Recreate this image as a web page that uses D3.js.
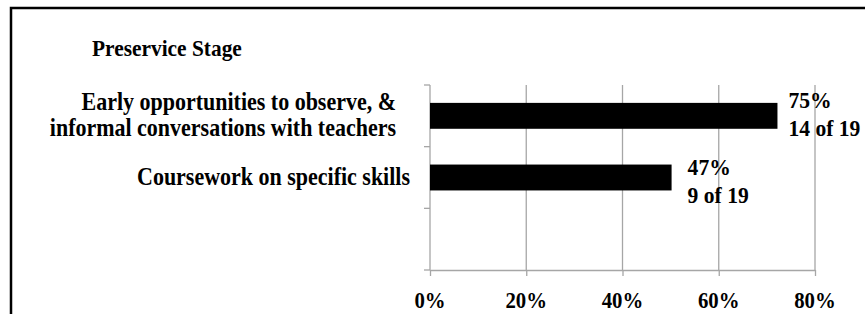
<!DOCTYPE html>
<html>
<head>
<meta charset="utf-8">
<script src="https://cdn.jsdelivr.net/npm/d3@7"></script>
<style>
  html, body { margin: 0; padding: 0; background: #fff; }
  svg { display: block; }
</style>
</head>
<body>
<svg id="chart" width="865" height="314"></svg>
<script>
// ---- data ----
const title = "Preservice Stage";
const categories = [
  ["Early opportunities to observe, &", "informal conversations with teachers"],
  ["Coursework on specific skills"],
  [""]
];
const values = [0.722, 0.502];
const labelPercent = ["75%", "47%"];
const labelCount = ["14 of 19", "9 of 19"];
const tickValues = [0, 0.2, 0.4, 0.6, 0.8];

// ---- layout ----
const W = 865, H = 314;
const plot = { left: 430, right: 815, top: 85, bottom: 270 };
const FONT = "'Liberation Serif', 'Times New Roman', serif";
const VS = 1.1; // vertical stretch of the text in the reference
const grid = "#a6a6a6";

const svg = d3.select("#chart");

function addText(x, y, str, size, anchor) {
  const g = svg.append("g").attr("transform", `translate(${x},${y}) scale(1,${VS})`);
  g.append("text")
    .attr("x", 0).attr("y", 0)
    .attr("text-anchor", anchor || "start")
    .attr("font-family", FONT)
    .style("font-family", FONT)
    .style("font-weight", "bold")
    .style("font-size", size + "px")
    .attr("fill", "#000")
    .text(str);
  return g;
}

// frame
svg.append("rect")
  .attr("x", 11).attr("y", 8)
  .attr("width", W + 20).attr("height", H + 20)
  .attr("fill", "none").attr("stroke", "#000").attr("stroke-width", 2.5);

const x = d3.scaleLinear().domain([0, 0.8]).range([plot.left, plot.right]);
const keys = categories.map((c, i) => i);
const y = d3.scaleBand().domain(keys).range([plot.top, plot.bottom])
  .paddingInner(0.58).paddingOuter(0.29);

// gridlines
svg.append("g").selectAll("line")
  .data(tickValues.filter(d => d > 0))
  .join("line")
  .attr("x1", d => x(d)).attr("x2", d => x(d))
  .attr("y1", plot.top).attr("y2", plot.bottom)
  .attr("stroke", grid).attr("stroke-width", 1.3);

// x axis (line + ticks via d3 axis, labels drawn with stretched text)
const xAxis = svg.append("g")
  .attr("transform", `translate(0,${plot.bottom})`)
  .call(d3.axisBottom(x).tickValues(tickValues).tickFormat("").tickSize(6).tickSizeOuter(0));
xAxis.select(".domain").attr("stroke", grid).attr("stroke-width", 1.3);
xAxis.selectAll(".tick line").attr("stroke", grid).attr("stroke-width", 1.3);
const fmt = d3.format(".0%");
tickValues.forEach(v => addText(x(v), plot.bottom + 38, fmt(v), 20.8, "middle"));

// y axis line + ticks at band boundaries
const step = y.step();
const bounds = keys.map(k => y(k) - (step - y.bandwidth()) / 2).concat([plot.bottom]);
svg.append("line")
  .attr("x1", x(0)).attr("x2", x(0))
  .attr("y1", plot.top).attr("y2", plot.bottom)
  .attr("stroke", grid).attr("stroke-width", 1.3);
svg.append("g").selectAll("line")
  .data(bounds).join("line")
  .attr("x1", x(0) - 6).attr("x2", x(0))
  .attr("y1", d => d).attr("y2", d => d)
  .attr("stroke", grid).attr("stroke-width", 1.3);

// bars
svg.append("g").selectAll("rect")
  .data(values).join("rect")
  .attr("x", x(0))
  .attr("y", (d, i) => y(i))
  .attr("width", d => x(d) - x(0))
  .attr("height", y.bandwidth())
  .attr("fill", "#000");

// category labels
const catGap = [34, 20];
categories.forEach((lines, i) => {
  const cy = y(i) + y.bandwidth() / 2;
  const lh = 26;
  lines.forEach((ln, j) => {
    if (!ln) return;
    const base = cy + 7 + (j - (lines.length - 1) / 2) * lh;
    addText(x(0) - catGap[i], base, ln, 22, "end");
  });
});

// data labels
const lblGap = [11, 16];
const lblShift = [-6, -1];
values.forEach((v, i) => {
  const cy = y(i) + y.bandwidth() / 2 + lblShift[i];
  addText(x(v) + lblGap[i], cy - 2, labelPercent[i], 21.6, "start");
  addText(x(v) + lblGap[i], cy + 26, labelCount[i], 21.6, "start");
});

// title
addText(92, 56, title, 21.4, "start");
</script>
</body>
</html>
